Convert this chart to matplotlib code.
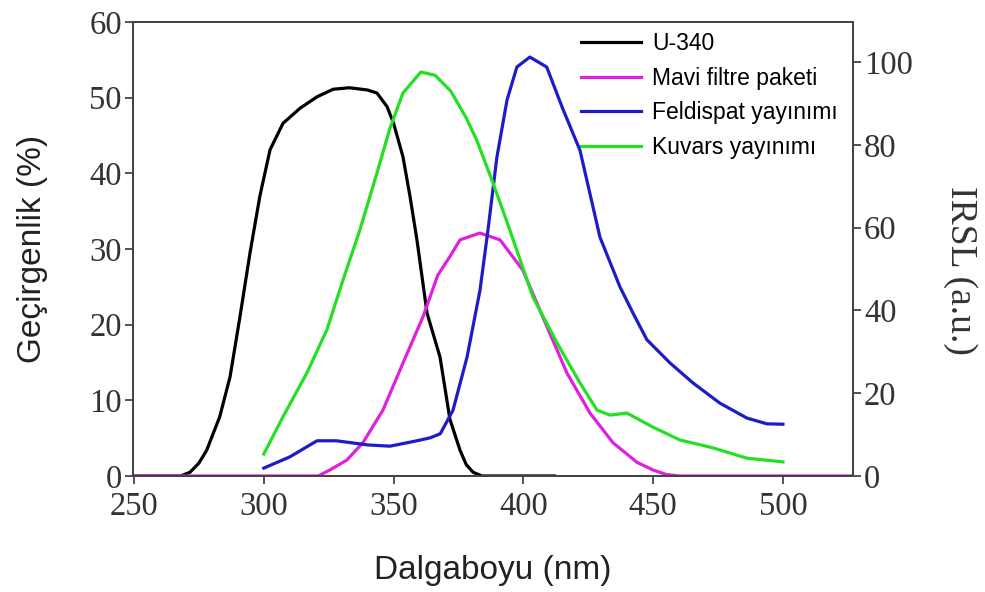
import matplotlib
matplotlib.use("Agg")
import matplotlib.pyplot as plt

# U-340 filter transmission (%)
u340_nm = [250, 268, 271.6, 275, 278, 283, 287, 290.8, 294.7, 298.5, 302.4, 307.4, 314, 320.5,
           326.7, 333, 340, 343.6, 347.5, 350, 353.6, 356.3, 359, 362.9, 367.9, 371.7, 375.6,
           378, 380.6, 384, 412]
u340_val = [0, 0, 0.5, 1.7, 3.4, 7.8, 13.1, 21, 29.5, 37, 43.1, 46.6, 48.6, 50.1,
            51.1, 51.3, 51.0, 50.6, 48.8, 46.6, 42.2, 37, 31.2, 21.5, 15.7, 7.5, 3.4,
            1.5, 0.5, 0, 0]

# blue filter pack transmission (%)
mavi_nm = [250, 321, 325.5, 332, 338.2, 345.9, 353.6, 361.3, 367, 371.7, 375.6, 383.3, 391,
           399.8, 407.5, 416.8, 425.7, 434.5, 443.8, 449.9, 455, 460, 527]
mavi_val = [0, 0, 0.8, 2.1, 4.4, 8.7, 14.9, 21, 26.5, 29, 31.2, 32.1, 31.2,
            27.2, 21, 13.6, 8.3, 4.4, 1.8, 0.8, 0.2, 0, 0]

# feldspar emission (IRSL a.u.)
feld_nm = [300, 310, 320.5, 328, 340, 348.6, 359, 364, 368, 372.9, 378.3, 383.3, 386.4,
           389.8, 393.7, 397.5, 402.5, 409, 415, 421.8, 429.5, 437.2, 442.2, 447.6,
           456.5, 465.3, 475.7, 486.1, 493.8, 500]
feld_val = [1.9, 4.6, 8.5, 8.5, 7.5, 7.2, 8.5, 9.2, 10.2, 15.9, 28.7, 44.9, 59.6,
            77, 90.8, 98.8, 101.2, 98.8, 89, 78.7, 57.7, 45.7, 39.4, 32.9,
            27.3, 22.5, 17.6, 14, 12.6, 12.5]

# quartz emission (IRSL a.u.)
kuv_nm = [300, 307.4, 316.6, 324.3, 330.5, 337, 343.6, 348.6, 353.6, 360.5, 366, 372,
          378, 382, 388.3, 394.8, 403.7, 413, 421.8, 428.4, 433.4, 439.9, 444.9, 449.9,
          460.3, 473, 486.1, 500]
kuv_val = [5.3, 14.3, 24.9, 35.3, 47.3, 59.4, 73.2, 84, 92.5, 97.6, 96.8, 93,
           86.5, 81.2, 70.8, 59.4, 43.2, 32.1, 22.5, 15.9, 14.7, 15.2, 13.5, 11.8,
           8.7, 6.8, 4.3, 3.4]

spine_c = "#444444"
serif = "Liberation Serif"
sans = "Liberation Sans"

fig = plt.figure(figsize=(9.85, 5.92), dpi=100)
ax = fig.add_axes([0.135, 0.196, 0.731, 0.767])
ax2 = ax.twinx()

l1, = ax.plot(u340_nm, u340_val, color="black", lw=2.3, label="U-340")
l2, = ax.plot(mavi_nm, mavi_val, color="#e020e0", lw=2.3, label="Mavi filtre paketi")
l3, = ax2.plot(feld_nm, feld_val, color="#1c1cc8", lw=2.3, label="Feldispat yayınımı")
l4, = ax2.plot(kuv_nm, kuv_val, color="#22e022", lw=2.3, label="Kuvars yayınımı")

ax.set_xlim(249.6, 527)
ax.set_ylim(0, 60)
ax2.set_ylim(0, 109.7)
ax.set_xticks([250, 300, 350, 400, 450, 500])
ax.set_yticks([0, 10, 20, 30, 40, 50, 60])
ax2.set_yticks([0, 20, 40, 60, 80, 100])

for a in (ax, ax2):
    for s in a.spines.values():
        s.set_color(spine_c)
        s.set_linewidth(1.4)
    a.tick_params(direction="out", length=6, width=1.3, color=spine_c,
                  labelsize=23.5, labelcolor="#333333", pad=2)
    for t in a.get_xticklabels() + a.get_yticklabels():
        t.set_fontfamily(serif)
ax.tick_params(axis="x", pad=5)

ax.set_xlabel("Dalgaboyu (nm)", fontsize=24, family=sans, color="#222222", labelpad=24)
ax.set_ylabel("Geçirgenlik (%)", fontsize=24, family=sans, color="#222222", labelpad=30)
fig.text(960 / 985, 1 - 270 / 592, "IRSL (a.u.)", rotation=270, ha="center", va="center",
         fontsize=27, family=serif, color="#333333")

ax.legend(handles=[l1, l2, l3, l4], loc="upper left", bbox_to_anchor=(0.61, 0.997),
          frameon=False, prop={"family": sans, "size": 16.5},
          handlelength=2.6, handletextpad=0.5, labelspacing=0.5, borderaxespad=0)

fig.savefig("out.png", dpi=100)
